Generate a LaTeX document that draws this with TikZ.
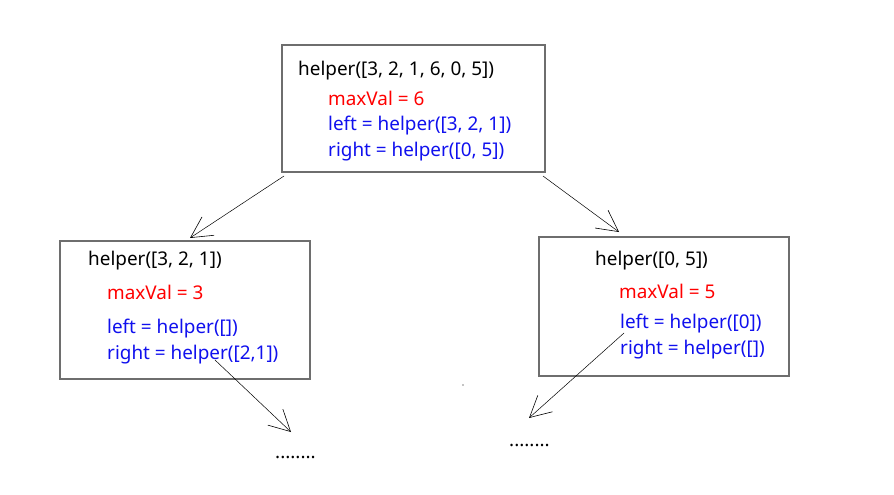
\documentclass[tikz,border=0pt]{standalone}
\usepackage{fontspec}
\setmainfont{Noto Sans}
\usetikzlibrary{arrows.meta}
\definecolor{boxgray}{HTML}{6E6E6E}
\definecolor{vred}{HTML}{FF0000}
\definecolor{vblue}{HTML}{1010EE}
\tikzset{
  callbox/.style={draw=boxgray, line width=1.3pt},
  txt/.style={anchor=west, inner sep=0pt, font=\fontsize{18.9}{20}\selectfont},
  redtxt/.style={txt, text=vred},
  bluetxt/.style={txt, text=vblue},
  callarrow/.style={line width=0.5pt, -{Straight Barb[length=21pt, width=22pt, line width=0.6pt]}},
}
\begin{document}
\begin{tikzpicture}[x=1pt, y=-1pt]
\useasboundingbox (0,0) rectangle (894,495);
% boxes
\draw[callbox] (282,45) rectangle (545,172);
\draw[callbox] (60,241) rectangle (310,379);
\draw[callbox] (539,237) rectangle (789,376);
% top box text
\node[txt] (t1) at (298,71) {helper([3, 2, 1, 6, 0, 5])};
\node[redtxt] (t2) at (328,98) {maxVal = 6};
\node[bluetxt] (t3) at (328,126) {left = helper([3, 2, 1])};
\node[bluetxt] (t4) at (328,152) {right = helper([0, 5])};
% left box text
\node[txt] (l1) at (88,261) {helper([3, 2, 1])};
\node[redtxt] (l2) at (107,292) {maxVal = 3};
\node[bluetxt] (l3) at (107,329) {left = helper([])};
\node[bluetxt] (l4) at (107,355) {right = helper([2,1])};
% right box text
\node[txt] (r1) at (595,261) {helper([0, 5])};
\node[redtxt] (r2) at (619,291) {maxVal = 5};
\node[bluetxt] (r3) at (620,324) {left = helper([0])};
\node[bluetxt] (r4) at (620,350) {right = helper([])};
% dots
\node[txt] (d1) at (275,457) {........};
\node[txt] (d2) at (509,445) {........};
\fill (463,385) circle (0.6pt);
% arrow endpoints
\coordinate (a1s) at (284,176);
\coordinate (a1e) at (190,238);
\coordinate (a2s) at (543,176);
\coordinate (a2e) at (619,232);
\coordinate (a3s) at (215,360);
\coordinate (a3e) at (291,432);
\coordinate (a4s) at (624,333);
\coordinate (a4e) at (529,418);
\draw[callarrow] (a1s) -- (a1e);
\draw[callarrow] (a2s) -- (a2e);
\draw[callarrow] (a3s) -- (a3e);
\draw[callarrow] (a4s) -- (a4e);
\end{tikzpicture}
\end{document}
